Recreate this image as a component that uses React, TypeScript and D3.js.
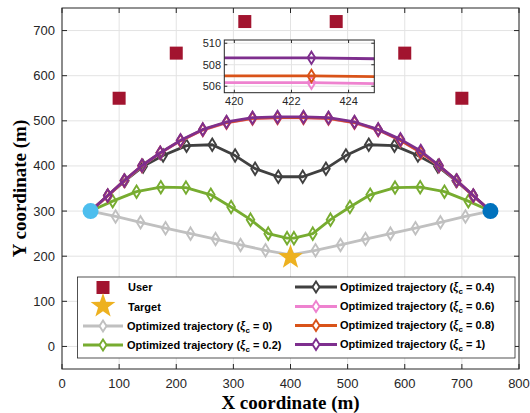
import React from "react";
import * as d3 from "d3";

const W = 530;
const H = 413;

const xTicks = [0, 100, 200, 300, 400, 500, 600, 700, 800];
const yTicks = [0, 100, 200, 300, 400, 500, 600, 700];
const insetXTicks = [420, 422, 424];
const insetYTicks = [506, 508, 510];

const usersX = [100, 200, 320, 480, 600, 700];
const usersY = [550, 650, 720, 720, 650, 550];
const target = [400, 200];
const startPt = [50, 300];
const endPt = [750, 300];

const xs0 = [50, 93.75, 137.5, 181.25, 225, 268.75, 312.5, 356.25, 400, 443.75, 487.5, 531.25, 575, 618.75, 662.5, 706.25, 750];
const ys0 = [300, 288, 275, 262, 250, 238, 225, 213, 203, 213, 225, 238, 250, 262, 275, 288, 300];

const xs02 = [50, 88.7, 130.5, 173, 217, 260.5, 296, 330, 361, 394, 406, 439, 470, 504, 539.5, 583, 627, 669.5, 711.3, 750];
const ys02 = [300, 322, 343, 353, 352, 336, 309, 281, 250, 240, 240, 250, 281, 309, 336, 352, 353, 343, 322, 300];

const xs04 = [50, 80, 110, 142, 177, 218, 263, 303, 338, 378.6, 421.4, 462, 497, 537, 582, 623, 658, 690, 720, 750];
const ys04 = [300, 334, 367, 399, 423, 445, 447, 423, 394, 376, 376, 394, 423, 447, 445, 423, 399, 367, 334, 300];

const xsHigh = [50, 80, 109, 140, 172, 207.5, 246.5, 288, 333.5, 377.3, 422.7, 466.5, 512, 553.5, 592.5, 628, 660, 691, 720, 750];
const ys06 = [300, 333.5, 367, 400, 428.5, 455.5, 479.5, 495.5, 504.8, 506.33, 506.33, 504.8, 495.5, 479.5, 456.5, 429.5, 400, 367, 333.5, 300];
const ys08 = [300, 333.8, 367.4, 400.5, 429, 456, 480, 496.2, 505.5, 506.96, 506.96, 505.5, 496.2, 480, 457, 430, 400.5, 367.4, 333.8, 300];
const ys1 = [300, 334.4, 367.8, 401, 429.2, 456.7, 481, 497.4, 507, 508.64, 508.64, 507, 497.4, 481, 458.9, 433, 401, 367.8, 334.4, 300];

const seriesNames = ["0", "0.2", "0.4", "0.6", "0.8", "1"];
const seriesColors = ["#C0C0C0", "#77AC30", "#404040", "#EE82CF", "#D95319", "#7E2F8E"];
const seriesX = [xs0, xs02, xs04, xsHigh, xsHigh, xsHigh];
const seriesY = [ys0, ys02, ys04, ys06, ys08, ys1];

const userColor = "#A2142F";
const starColor = "#EDB120";
const startColor = "#4DBEEE";
const endColor = "#0072BD";
const axisColor = "#262626";
const gridColor = "#E3E3E3";

const diamond = (rx: number, ry: number) => `M0,${-ry}L${rx},0L0,${ry}L${-rx},0Z`;
const starPath = (R: number, r: number) => {
  const pts: string[] = [];
  for (let i = 0; i < 10; i++) {
    const a = -Math.PI / 2 + (i * Math.PI) / 5;
    const rad = i % 2 === 0 ? R : r;
    pts.push(`${(rad * Math.cos(a)).toFixed(2)},${(rad * Math.sin(a)).toFixed(2)}`);
  }
  return "M" + pts.join("L") + "Z";
};

export default function App() {
  const x = d3.scaleLinear().domain([0, 800]).range([62, 519]);
  const y = d3.scaleLinear().domain([-50, 750]).range([369, 8]);
  const xi = d3.scaleLinear().domain([419.65, 424.9]).range([224.3, 374.3]);
  const yi = d3.scaleLinear().domain([505.4, 510.3]).range([92.7, 40]);

  const font = "'Liberation Sans', Arial, Helvetica, sans-serif";
  const serif = "'Liberation Serif', 'Times New Roman', serif";
  const tl = 5;
  const LW = 2.8;
  const MW = 1.9;
  const mk = diamond(3.8, 6.2);

  const lineGen = (xsA: number[], ysA: number[], sx: any, sy: any) =>
    d3.line<number>().x((_, i) => sx(xsA[i])).y((d) => sy(d))(ysA) || "";

  const [x0, x1] = x.range();
  const [y0, y1] = y.range();
  const [ix0, ix1] = xi.range();
  const [iy0, iy1] = yi.range();

  const series = seriesNames.map((n, s) => ({ n, color: seriesColors[s], xs: seriesX[s], ys: seriesY[s] }));

  const legendRows1 = [287.5, 307, 326, 345];
  const legendRows2 = [287, 306.5, 325.5, 344.5];

  const legText = (name: string, tx: number, ty: number) => (
    <text x={tx} y={ty} dy="0.35em" fontSize={11} fontWeight="bold" fontFamily={font} fill="#000">
      Optimized trajectory (<tspan fontStyle="italic" fontFamily={serif} fontSize={12}>ξ</tspan>
      <tspan dy={3} fontSize={8}>c</tspan>
      <tspan dy={-3}> = {name})</tspan>
    </text>
  );

  return (
    <svg width={W} height={H} style={{ position: "absolute", left: 0, top: 0, background: "#fff" }}>
      <defs>
        <clipPath id="mainClip">
          <rect x={x0} y={y1} width={x1 - x0} height={y0 - y1} />
        </clipPath>
        <clipPath id="insetClip">
          <rect x={ix0} y={iy1} width={ix1 - ix0} height={iy0 - iy1} />
        </clipPath>
      </defs>
      <rect x={0} y={0} width={W} height={H} fill="#fff" />
      {/* grid */}
      {xTicks.map((t) => (
        <line key={"gx" + t} x1={x(t)} x2={x(t)} y1={y0} y2={y1} stroke={gridColor} strokeWidth={1} />
      ))}
      {yTicks.map((t) => (
        <line key={"gy" + t} x1={x0} x2={x1} y1={y(t)} y2={y(t)} stroke={gridColor} strokeWidth={1} />
      ))}

      {/* trajectories */}
      <g clipPath="url(#mainClip)">
        {series.map((s) => (
          <g key={"s" + s.n}>
            <path d={lineGen(s.xs, s.ys, x, y)} fill="none" stroke={s.color} strokeWidth={LW} strokeLinejoin="round" />
            {s.ys.map((v, i) => (
              <path key={i} d={mk} transform={`translate(${x(s.xs[i])},${y(v)})`} fill="none" stroke={s.color} strokeWidth={MW} />
            ))}
          </g>
        ))}
        {usersX.map((ux, i) => (
          <rect key={"u" + i} x={x(ux) - 6.5} y={y(usersY[i]) - 6.5} width={13} height={13} fill={userColor} />
        ))}
        <path d={starPath(13, 5.2)} transform={`translate(${x(target[0])},${y(target[1]) + 1})`} fill={starColor} />
        <circle cx={x(startPt[0])} cy={y(startPt[1])} r={8} fill={startColor} />
        <circle cx={x(endPt[0])} cy={y(endPt[1])} r={8} fill={endColor} />
      </g>

      {/* axes box and ticks */}
      <rect x={x0} y={y1} width={x1 - x0} height={y0 - y1} fill="none" stroke={axisColor} strokeWidth={1} />
      {xTicks.map((t) => (
        <g key={"tx" + t}>
          <line x1={x(t)} x2={x(t)} y1={y0} y2={y0 - tl} stroke={axisColor} />
          <line x1={x(t)} x2={x(t)} y1={y1} y2={y1 + tl} stroke={axisColor} />
          <text x={x(t)} y={383} dy="0.35em" textAnchor="middle" fontSize={13} fontFamily={font} fill={axisColor}>
            {t}
          </text>
        </g>
      ))}
      {yTicks.map((t) => (
        <g key={"ty" + t}>
          <line x1={x0} x2={x0 + tl} y1={y(t)} y2={y(t)} stroke={axisColor} />
          <line x1={x1} x2={x1 - tl} y1={y(t)} y2={y(t)} stroke={axisColor} />
          <text x={55} y={y(t)} dy="0.35em" textAnchor="end" fontSize={13} fontFamily={font} fill={axisColor}>
            {t}
          </text>
        </g>
      ))}
      <text x={(x0 + x1) / 2} y={409} textAnchor="middle" fontSize={19} fontWeight="bold" fontFamily={serif} fill="#000">
        X coordinate (m)
      </text>
      <text transform={`translate(26,${(y0 + y1) / 2}) rotate(-90)`} textAnchor="middle" fontSize={19} fontWeight="bold" fontFamily={serif} fill="#000">
        Y coordinate (m)
      </text>

      {/* inset */}
      <rect x={ix0} y={iy1} width={ix1 - ix0} height={iy0 - iy1} fill="#fff" />
      {insetXTicks.map((t) => (
        <line key={"igx" + t} x1={xi(t)} x2={xi(t)} y1={iy0} y2={iy1} stroke={gridColor} />
      ))}
      {insetYTicks.map((t) => (
        <line key={"igy" + t} x1={ix0} x2={ix1} y1={yi(t)} y2={yi(t)} stroke={gridColor} />
      ))}
      <g clipPath="url(#insetClip)">
        {series.slice(3).map((s) => (
          <g key={"is" + s.n}>
            <path d={lineGen(s.xs, s.ys, xi, yi)} fill="none" stroke={s.color} strokeWidth={LW} />
            {s.ys.map((v, i) => (
              <path key={i} d={mk} transform={`translate(${xi(s.xs[i])},${yi(v)})`} fill="none" stroke={s.color} strokeWidth={MW} />
            ))}
          </g>
        ))}
      </g>
      <rect x={ix0} y={iy1} width={ix1 - ix0} height={iy0 - iy1} fill="none" stroke={axisColor} strokeWidth={1} />
      {insetXTicks.map((t) => (
        <g key={"itx" + t}>
          <line x1={xi(t)} x2={xi(t)} y1={iy0} y2={iy0 - 3} stroke={axisColor} />
          <line x1={xi(t)} x2={xi(t)} y1={iy1} y2={iy1 + 3} stroke={axisColor} />
          <text x={xi(t)} y={101} dy="0.35em" textAnchor="middle" fontSize={11} fontFamily={font} fill={axisColor}>
            {t}
          </text>
        </g>
      ))}
      {insetYTicks.map((t) => (
        <g key={"ity" + t}>
          <line x1={ix0} x2={ix0 + 3} y1={yi(t)} y2={yi(t)} stroke={axisColor} />
          <line x1={ix1} x2={ix1 - 3} y1={yi(t)} y2={yi(t)} stroke={axisColor} />
          <text x={221} y={yi(t)} dy="0.35em" textAnchor="end" fontSize={11} fontFamily={font} fill={axisColor}>
            {t}
          </text>
        </g>
      ))}

      {/* legend */}
      <rect x={77.5} y={277} width={437.5} height={81} fill="#fff" stroke="#262626" strokeWidth={0.8} />
      <rect x={103 - 6.5} y={legendRows1[0] - 6.5} width={13} height={13} fill={userColor} />
      <text x={128} y={legendRows1[0]} dy="0.35em" fontSize={11} fontWeight="bold" fontFamily={font}>User</text>
      <path d={starPath(13, 5.2)} transform={`translate(103,${legendRows1[1] - 1})`} fill={starColor} />
      <text x={128} y={legendRows1[1]} dy="0.35em" fontSize={11} fontWeight="bold" fontFamily={font}>Target</text>
      {series.map((s, k) => {
        const col = k < 2 ? 0 : 1;
        const row = k < 2 ? k + 2 : k - 2;
        const ly = col === 0 ? legendRows1[row] : legendRows2[row];
        const lx0 = col === 0 ? 83 : 295;
        const lx1 = col === 0 ? 123 : 337;
        const tx = col === 0 ? 127 : 340;
        return (
          <g key={"leg" + s.n}>
            <line x1={lx0} x2={lx1} y1={ly} y2={ly} stroke={s.color} strokeWidth={LW} />
            <path d={diamond(3.5, 5.5)} transform={`translate(${(lx0 + lx1) / 2},${ly})`} fill="#fff" stroke={s.color} strokeWidth={MW} />
            {legText(s.n, tx, ly)}
          </g>
        );
      })}
    </svg>
  );
}
